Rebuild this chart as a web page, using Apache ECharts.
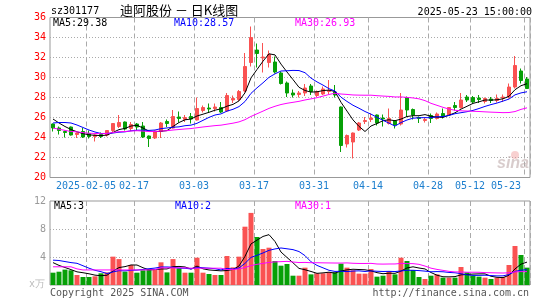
<!DOCTYPE html>
<html><head><meta charset="utf-8">
<script src="https://cdn.jsdelivr.net/npm/echarts@6/dist/echarts.min.js"></script>
<style>html,body{margin:0;padding:0;background:#fff}#c{width:545px;height:300px}</style>
</head><body><div id="c"></div>
<script>
// ---- data ----
const firstDay = '2025-01-20', lastDay = '2025-05-23';
const holidays = ['2025-01-28','2025-01-29','2025-01-30','2025-01-31','2025-02-03','2025-02-04',
                  '2025-04-04','2025-05-01','2025-05-02','2025-05-05'];
const tickDates = ['2025-02-05','2025-02-17','2025-03-03','2025-03-17','2025-03-31','2025-04-14','2025-04-28','2025-05-12','2025-05-23'];
const tickText  = ['2025-02-05','02-17','03-03','03-17','03-31','04-14','04-28','05-12','05-23'];

const opens = [25.35,24.95,24.6,25.05,24.3,24.6,24.4,24.1,24.3,24.25,
24.7,25.1,25.55,24.9,25.35,25.15,24.15,23.95,24.6,25.6,
24.95,26.05,25.8,26.1,25.75,26.7,26.95,26.9,27.0,26.65,
27.75,27.8,28.65,31.5,32.75,31.95,31.5,31.55,30.45,29.45,
28.45,28.3,28.45,29.15,28.2,28.35,28.6,28.55,27.05,23.35,
23.55,24.75,25.6,25.8,26.25,25.95,25.4,25.65,25.35,28.0,
26.8,26.0,25.7,26.2,25.9,26.4,26.25,27.2,27.0,28.05,
28.0,27.95,27.6,27.85,27.7,27.95,28.05,29.05,30.65,29.85];
const closes = [24.95,24.7,24.5,24.25,24.45,24.05,24.1,24.25,24.1,24.7,
25.4,25.5,24.85,25.3,25.05,24.05,23.9,24.65,25.45,25.4,
26.1,25.9,26.0,25.85,26.9,27.0,26.85,27.05,26.55,28.2,
27.9,28.6,31.1,34.0,32.4,32.05,32.3,30.55,29.4,28.45,
28.25,28.45,28.95,28.6,28.6,28.85,28.7,28.25,23.2,24.2,
24.45,25.45,25.7,25.95,25.45,25.85,25.9,25.25,26.75,26.75,
26.25,25.9,25.8,25.9,26.35,26.1,27.0,27.0,27.75,27.75,
27.55,27.8,27.9,27.7,27.9,28.05,29.05,31.2,29.7,28.9];
const lows = [24.6,24.3,24.0,24.2,23.95,23.95,23.9,23.6,23.95,24.1,
24.55,24.95,24.7,24.65,24.7,23.95,23.05,23.85,23.95,25.05,
24.9,25.5,25.55,25.4,25.7,26.5,26.5,26.6,26.45,26.55,
27.45,27.65,28.5,31.1,31.0,30.5,31.0,30.4,29.3,28.05,
28.0,28.0,28.15,28.25,28.05,28.25,28.35,28.0,22.55,23.0,
21.9,24.65,25.35,25.55,25.2,25.1,25.3,24.9,25.2,26.05,
25.8,25.45,25.5,25.45,25.8,25.9,26.2,26.7,26.9,27.55,
27.4,27.45,27.4,27.45,27.5,27.55,27.9,28.9,29.4,28.85];
const highs = [25.4,25.1,24.7,25.1,24.5,24.95,24.7,24.3,24.5,24.75,
25.45,26.25,25.6,25.55,25.45,25.55,24.2,24.7,25.55,25.8,
26.75,26.6,26.25,26.45,28.0,27.2,27.4,27.4,27.55,28.45,
28.2,28.75,32.45,35.1,33.4,33.45,32.7,32.1,30.6,29.6,
28.8,28.65,29.35,29.35,28.7,29.1,29.75,29.25,27.1,24.3,
24.5,25.55,26.05,26.4,26.3,26.3,26.9,25.7,28.45,28.1,
26.9,26.1,26.0,26.4,26.5,26.9,27.05,27.55,28.45,28.25,
28.15,28.25,28.0,28.05,28.3,28.3,29.4,32.15,30.9,30.05];
const volumes = [1.76,1.9,2.2,2.1,1.43,1.14,1.14,1.24,1.67,1.8,
4.05,3.7,1.9,2.86,1.76,2.1,2.2,2.14,3.24,1.8,
3.7,2.38,1.76,1.76,3.9,1.76,1.57,1.43,1.43,4.14,
2.52,4.05,8.33,10.3,6.86,5.14,5.33,3.43,2.76,3.0,
1.33,1.33,2.48,1.52,1.67,1.67,1.81,1.81,3.05,2.48,
2.1,1.62,1.62,2.29,1.19,1.33,2.0,1.52,3.9,3.43,
2.14,1.14,0.86,1.33,1.52,1.05,1.05,1.05,2.57,1.81,
1.33,1.19,1.05,0.86,1.05,1.14,2.86,5.57,4.29,2.48];

// moving-average values at the left edge (window starts before the chart)
const ma5Head  = [25.85,25.45,25.1,24.8];
const ma10Head = [25.45,25.5,25.5,25.45,25.25,25.0,24.75,24.55,24.4];
const vma5Head  = [3.2,2.8,2.5,2.2];
const vma10Head = [3.55,3.5,3.35,3.2,3.1,2.75,2.4,2.1,1.9];
const vma30Head = [2.6,2.6,2.6,2.6,2.3,2.15,2.15,2.15,2.15,2.15,2.15,2.15,2.15,2.15,2.15,2.15,2.15,2.2,
                   2.45,2.45,2.45,2.45,2.45,2.4,2.4,2.4,2.4,2.4,2.4];
const priceLegend = ['MA5:29.38','MA10:28.57','MA30:26.93'];
const volLegend = ['MA5:3','MA10:2','MA30:1'];
const titleText = '迪阿股份 － 日K线图';

// ---- build ----
function tradingDays(a, b, hol) {
  const out = []; const hs = new Set(hol);
  const d = new Date(a + 'T00:00:00Z'), end = new Date(b + 'T00:00:00Z');
  while (d <= end) {
    const s = d.toISOString().slice(0, 10), w = d.getUTCDay();
    if (w !== 0 && w !== 6 && !hs.has(s)) out.push(s);
    d.setUTCDate(d.getUTCDate() + 1);
  }
  return out;
}
const categories = tradingDays(firstDay, lastDay, holidays);
function ma(src, n, head) {
  return src.map((v, i) => {
    if (i < n - 1) {
      if (head && head[i] !== undefined) return head[i];
      let s = 0; for (let k = 0; k <= i; k++) s += src[k];
      return +(s / (i + 1)).toFixed(3);
    }
    let s = 0; for (let k = i - n + 1; k <= i; k++) s += src[k];
    return +(s / n).toFixed(3);
  });
}
const RED = '#fa5252', GREEN = '#07a007';
const MONO = '"DejaVu Sans Mono", monospace';
const kData = opens.map((o, i) => [o, closes[i], lows[i], highs[i]]);
const vData = volumes.map((v, i) => ({ value: v, itemStyle: { color: closes[i] >= opens[i] ? RED : GREEN } }));
const tickIdx = tickDates.map(d => categories.indexOf(d));
const tickSet = new Set(tickIdx);
const labelOf = {}; tickIdx.forEach((ix, k) => { labelOf[categories[ix]] = tickText[k]; });

const vSplit = { show: true, interval: (i) => tickSet.has(i), lineStyle: { color: '#aaa', type: [5, 3], width: 1 } };
const hSplit = { show: true, showMinLine: false, showMaxLine: false, lineStyle: { color: '#aaa', type: [1, 2], width: 1 } };
function line(name, data, color, xi) {
  return { name, type: 'line', xAxisIndex: xi, yAxisIndex: xi, data, symbol: 'none', silent: true, z: 4,
           lineStyle: { width: 1, color }, itemStyle: { color } };
}
function txt(x, y, text, fill, align, font) {
  return { type: 'text', x, y, silent: true, z: 10,
           style: { text, fill, font: font || ('10px ' + MONO), align: align || 'left', verticalAlign: 'middle' } };
}

const chart = echarts.init(document.getElementById('c'));
chart.setOption({
  animation: false,
  backgroundColor: '#fff',
  grid: [
    { left: 50, top: 17.5, width: 480, height: 160, show: true, borderColor: '#999', borderWidth: 1, backgroundColor: '#fff' },
    { left: 50, top: 201, width: 480, height: 84, show: true, borderColor: '#999', borderWidth: 1, backgroundColor: '#fff' }
  ],
  xAxis: [
    { type: 'category', gridIndex: 0, data: categories, boundaryGap: true,
      axisLine: { show: false }, axisTick: { show: false },
      axisLabel: { interval: (i) => tickSet.has(i), formatter: (v) => labelOf[v] || '', color: '#1d7fce',
                   fontFamily: MONO, fontSize: 10, margin: 4, padding: [0, 6, 0, 0], alignMaxLabel: 'right' },
      splitLine: vSplit },
    { type: 'category', gridIndex: 1, data: categories, boundaryGap: true,
      axisLine: { show: false }, axisTick: { show: false }, axisLabel: { show: false }, splitLine: vSplit }
  ],
  yAxis: [
    { type: 'value', gridIndex: 0, min: 20, max: 36, interval: 2, axisLine: { show: false }, axisTick: { show: false },
      axisLabel: { color: '#f00', fontFamily: MONO, fontSize: 10, margin: 4 }, splitLine: hSplit },
    { type: 'value', gridIndex: 1, min: 0, max: 12, interval: 4, axisLine: { show: false }, axisTick: { show: false },
      axisLabel: { color: '#999', fontFamily: MONO, fontSize: 10, margin: 4, formatter: (v) => v === 0 ? '' : String(v) },
      splitLine: hSplit }
  ],
  series: [
    { type: 'candlestick', xAxisIndex: 0, yAxisIndex: 0, data: kData, barWidth: 4, silent: true, z: 3,
      itemStyle: { color: RED, color0: GREEN, borderColor: RED, borderColor0: GREEN, borderWidth: 1 } },
    line('MA5', ma(closes, 5, ma5Head), '#000', 0),
    line('MA10', ma(closes, 10, ma10Head), '#0000ff', 0),
    line('MA30', ma(closes, 30), '#ff00ff', 0),
    { type: 'bar', xAxisIndex: 1, yAxisIndex: 1, data: vData, barWidth: 5, silent: true, z: 3 },
    line('VMA5', ma(volumes, 5, vma5Head), '#000', 1),
    line('VMA10', ma(volumes, 10, vma10Head), '#0000ff', 1),
    line('VMA30', ma(volumes, 30, vma30Head), '#ff00ff', 1)
  ],
  graphic: [
    txt(51, 11.5, 'sz301177', '#000'),
    txt(120, 10.5, titleText, '#000', 'left', '13px "Noto Sans CJK SC"'),
    txt(532, 12, '2025-05-23 15:00:00', '#000', 'right'),
    txt(53, 23.5, priceLegend[0], '#000'),
    txt(174, 23.5, priceLegend[1], '#0000ff'),
    txt(295, 23.5, priceLegend[2], '#ff00ff'),
    txt(54, 206.5, volLegend[0], '#000'),
    txt(175, 206.5, volLegend[1], '#0000ff'),
    txt(295, 206.5, volLegend[2], '#ff00ff'),
    txt(45, 284, 'x万', '#bbb', 'right'),
    txt(50, 293, 'Copyright 2025 SINA.COM', '#555'),
    txt(529, 293, 'http://finance.sina.com.cn', '#555', 'right'),
    { type: 'circle', shape: { cx: 515, cy: 155, r: 4 }, silent: true, z: 1, style: { fill: 'rgba(240,150,150,0.45)' } },
    txt(497, 164, 'sina', 'rgba(190,170,170,0.6)', 'left', 'italic bold 16px "Liberation Sans"')
  ]
});
</script></body></html>
